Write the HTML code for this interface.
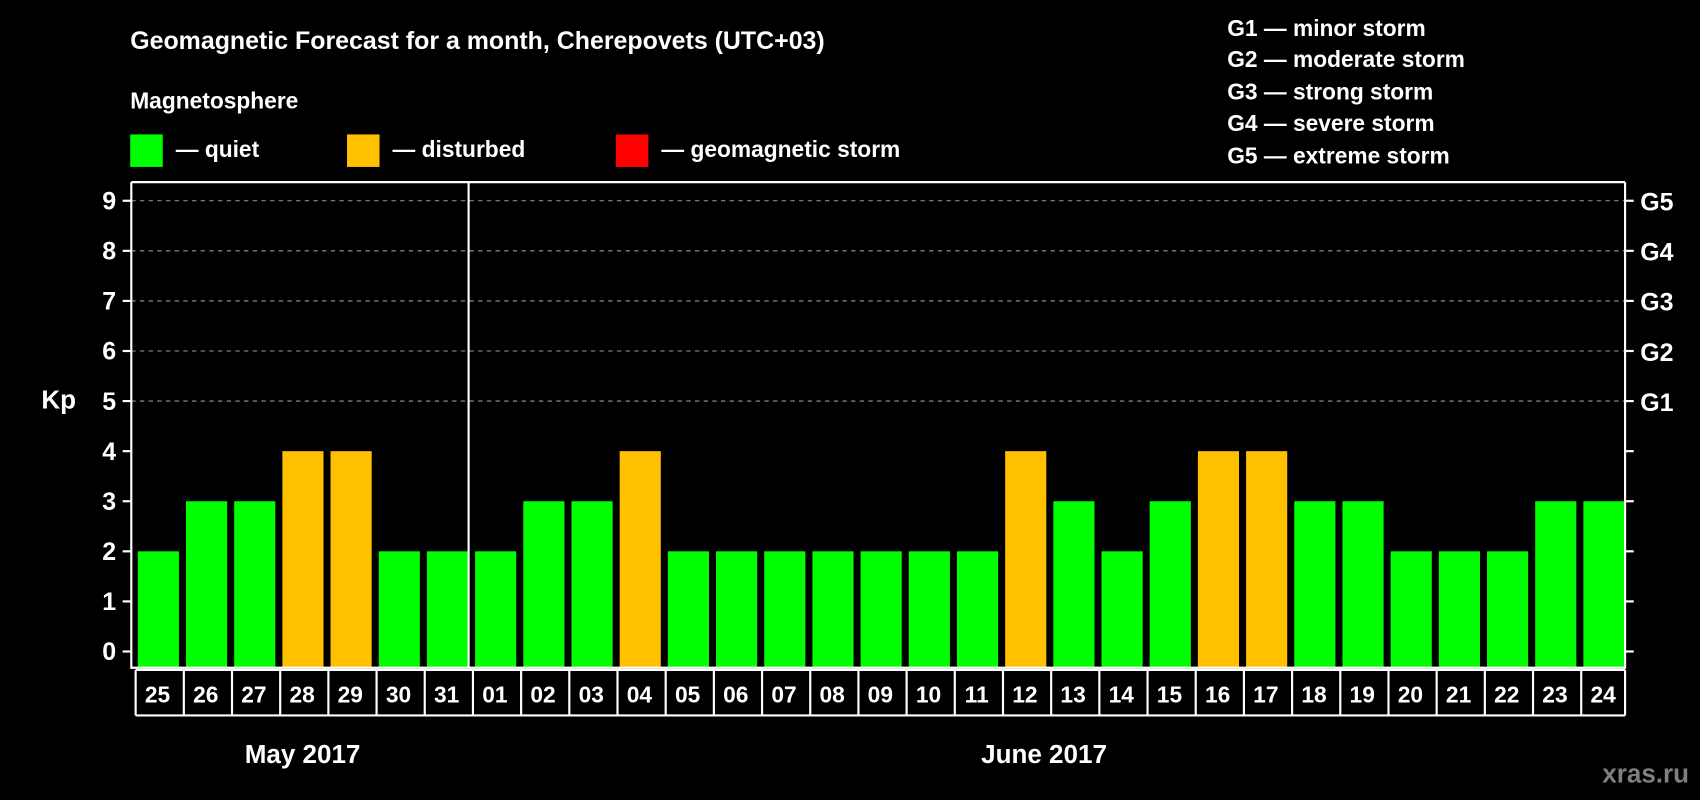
<!DOCTYPE html>
<html><head><meta charset="utf-8"><style>
html,body{margin:0;padding:0;background:#000;width:1700px;height:800px;overflow:hidden}
svg{display:block;font-family:"Liberation Sans",Arial,sans-serif;font-weight:bold}
</style></head><body>
<svg id="chart" width="1700" height="800" viewBox="0 0 1568 738" xmlns="http://www.w3.org/2000/svg">
<rect width="1568" height="738" fill="#000"/>
<text x="120" y="45" fill="#fff" font-size="23">Geomagnetic Forecast for a month, Cherepovets (UTC+03)</text>
<text x="120" y="100" fill="#fff" font-size="21">Magnetosphere</text>
<g><rect x="120" y="124" width="30" height="30" fill="#00ff00"/><text x="162" y="145" fill="#fff" font-size="21">— quiet</text></g>
<g><rect x="320" y="124" width="30" height="30" fill="#ffc000"/><text x="362" y="145" fill="#fff" font-size="21">— disturbed</text></g>
<g><rect x="568" y="124" width="30" height="30" fill="#ff0000"/><text x="610" y="145" fill="#fff" font-size="21">— geomagnetic storm</text></g>
<g fill="#fff" font-size="21">
<text x="1132" y="33">G1 — minor storm</text>
<text x="1132" y="62">G2 — moderate storm</text>
<text x="1132" y="92">G3 — strong storm</text>
<text x="1132" y="121">G4 — severe storm</text>
<text x="1132" y="151">G5 — extreme storm</text>
</g>
<text x="38" y="377" fill="#fff" font-size="24">Kp</text>
<g id="grid"></g><g id="bars"></g><g id="axes"></g>
<text x="279" y="704" fill="#fff" font-size="24" text-anchor="middle">May 2017</text>
<text x="963" y="704" fill="#fff" font-size="24" text-anchor="middle">June 2017</text>
<text x="1558" y="722" fill="#7f7f7f" font-size="24" text-anchor="end">xras.ru</text>
</svg>
<script>
const dates=["25","26","27","28","29","30","31","01","02","03","04","05","06","07","08","09","10","11","12","13","14","15","16","17","18","19","20","21","22","23","24"];
const kp=[2,3,3,4,4,2,2,2,3,3,4,2,2,2,2,2,2,2,4,3,2,3,4,4,3,3,2,2,2,3,3];
const yTicks=[0,1,2,3,4,5,6,7,8,9];
const gLabels=["G1","G2","G3","G4","G5"];
const NS="http://www.w3.org/2000/svg";
const L=121,R=1499,T=168,B=616;
const n=dates.length, step=(R-L)/n;
const y=v=>601-46.2*v;
const x=i=>L+step*i;
function mk(tag,attrs,parent,txt){const e=document.createElementNS(NS,tag);for(const k in attrs)e.setAttribute(k,attrs[k]);if(txt!==undefined)e.textContent=txt;parent.appendChild(e);return e;}
const grid=document.getElementById('grid'),bars=document.getElementById('bars'),axes=document.getElementById('axes');
for(let v=5;v<=9;v++){
 const g=mk('line',{x1:L,x2:R,y1:y(v),y2:y(v),stroke:'#9a9a9a','stroke-dasharray':'4,4','stroke-width':1},grid);
 
 
}
kp.forEach((v,i)=>{
 const c=v>=5?'#ff0000':(v>=4?'#ffc000':'#00ff00');
 const r=mk('rect',{x:x(i)+6,y:y(v),width:step-6-0.5,height:B-y(v),fill:c},bars);
 
 
});
mk('line',{x1:L,x2:L,y1:T,y2:B+1,stroke:'#fff','stroke-width':2},axes);
mk('line',{x1:R,x2:R,y1:T,y2:B+1,stroke:'#fff','stroke-width':2},axes);
mk('line',{x1:L,x2:R,y1:T,y2:T,stroke:'#fff','stroke-width':2},axes);
mk('line',{x1:L,x2:R,y1:B,y2:B,stroke:'#fff','stroke-width':2},axes);
mk('line',{x1:x(7),x2:x(7),y1:T,y2:B,stroke:'#fff','stroke-width':2},axes);
yTicks.forEach(v=>{
 mk('line',{x1:L-8,x2:L,y1:y(v),y2:y(v),stroke:'#fff','stroke-width':2},axes);
 mk('line',{x1:R,x2:R+8,y1:y(v),y2:y(v),stroke:'#fff','stroke-width':2},axes);
 const t=mk('text',{x:L-14,y:y(v)+8,fill:'#fff','font-size':23,'text-anchor':'end'},axes,String(v));
 
 
});
gLabels.forEach((g,i)=>{
 const t=mk('text',{x:R+14,y:y(5+i)+9,fill:'#fff','font-size':23},axes,g);
 
 
});
mk('line',{x1:x(0)+4,x2:R,y1:618,y2:618,stroke:'#fff','stroke-width':2},axes);
mk('line',{x1:x(0)+4,x2:R,y1:660,y2:660,stroke:'#fff','stroke-width':2},axes);
dates.forEach((d,i)=>{
 mk('line',{x1:x(i)+4,x2:x(i)+4,y1:618,y2:660,stroke:'#fff','stroke-width':2},axes);
 const t=mk('text',{x:x(i)+step/2+2,y:648,fill:'#fff','font-size':21,'text-anchor':'middle'},axes,d);
 
 
});
mk('line',{x1:R,x2:R,y1:618,y2:660,stroke:'#fff','stroke-width':2},axes);
</script>
</body></html>
